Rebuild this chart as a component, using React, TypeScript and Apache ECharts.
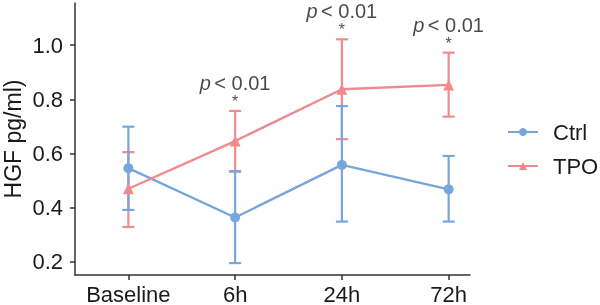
import React, { useEffect, useRef } from "react";
import * as echarts from "echarts";

const categories = ["Baseline", "6h", "24h", "72h"];
const ctrlMean = [0.546, 0.364, 0.558, 0.468];
const ctrlLow = [0.392, 0.196, 0.349, 0.349];
const ctrlHigh = [0.699, 0.535, 0.775, 0.591];
const tpoMean = [0.47, 0.646, 0.837, 0.853];
const tpoLow = [0.329, 0.533, 0.653, 0.736];
const tpoHigh = [0.605, 0.757, 1.021, 0.972];
const pLabels = ["", "< 0.01", "< 0.01", "< 0.01"];
const yTicks = [0.2, 0.4, 0.6, 0.8, 1.0];
const xPositions = [1, 2, 3, 4];

const BLUE = "#76a6dc";
const RED = "#f08a8c";
const AXIS = "#333333";
const TEXT = "#1a1a1a";
const FONT = "Liberation Sans, Arial, sans-serif";

function errorBarSeries(name: string, low: number[], high: number[], color: string) {
  return {
    type: "custom",
    name: name + "_err",
    silent: true,
    data: xPositions.map((x, i) => [x, low[i], high[i]]),
    encode: { x: 0, y: [1, 2] },
    renderItem: (params: any, api: any) => {
      const x = api.value(0);
      const lo = api.coord([x, api.value(1)]);
      const hi = api.coord([x, api.value(2)]);
      const hw = 6;
      const style = { stroke: color, lineWidth: 2.2, fill: "none" };
      return {
        type: "group",
        children: [
          { type: "line", shape: { x1: lo[0], y1: lo[1], x2: hi[0], y2: hi[1] }, style },
          { type: "line", shape: { x1: hi[0] - hw, y1: hi[1], x2: hi[0] + hw, y2: hi[1] }, style },
          { type: "line", shape: { x1: lo[0] - hw, y1: lo[1], x2: lo[0] + hw, y2: lo[1] }, style },
        ],
      };
    },
  };
}

export default function App() {
  const ref = useRef<HTMLDivElement>(null);
  useEffect(() => {
    if (!ref.current) return;
    const chart = echarts.init(ref.current, null, { renderer: "svg" });
    const annotData = xPositions
      .map((x, i) => ({ value: [x, tpoHigh[i]], txt: pLabels[i] }))
      .filter((d) => d.txt !== "");
    chart.setOption({
      animation: false,
      textStyle: { fontFamily: FONT },
      grid: { left: 75, top: 3, width: 395, height: 272, outerBoundsMode: "none", containLabel: false },
      legend: {
        orient: "vertical",
        left: 507,
        top: 121,
        padding: 0,
        itemWidth: 30,
        itemHeight: 10,
        itemGap: 12,
        data: ["Ctrl", "TPO"],
        textStyle: { fontSize: 22, color: TEXT, fontFamily: FONT, padding: [0, 0, 0, 10] },
      },
      xAxis: {
        type: "value",
        min: 0.5,
        max: 4.2,
        splitLine: { show: false },
        axisLine: { show: true, lineStyle: { color: AXIS, width: 1.5 } },
        axisTick: { show: true, length: 5, lineStyle: { color: AXIS, width: 1.5 }, customValues: xPositions },
        axisLabel: {
          customValues: xPositions,
          formatter: (v: number) => categories[Math.round(v) - 1] ?? "",
          fontSize: 22,
          color: TEXT,
          margin: 8,
          fontFamily: FONT,
        },
      },
      yAxis: {
        type: "value",
        min: 0.152,
        max: 1.155,
        name: "HGF pg/ml)",
        nameLocation: "middle",
        nameRotate: 90,
        nameGap: 50,
        nameMoveOverlap: false,
        nameTextStyle: { fontSize: 23, color: TEXT, fontFamily: FONT, lineHeight: 24 },
        splitLine: { show: false },
        axisLine: { show: true, lineStyle: { color: AXIS, width: 1.5 } },
        axisTick: { show: true, length: 5, lineStyle: { color: AXIS, width: 1.5 }, customValues: yTicks },
        axisLabel: {
          customValues: yTicks,
          formatter: (v: number) => v.toFixed(1),
          fontSize: 22,
          color: TEXT,
          margin: 12,
          fontFamily: FONT,
        },
      },
      series: [
        {
          type: "line",
          name: "Ctrl",
          data: xPositions.map((x, i) => [x, ctrlMean[i]]),
          color: BLUE,
          symbol: "circle",
          symbolSize: 10,
          lineStyle: { width: 2.4, color: BLUE },
          itemStyle: { color: BLUE },
        },
        errorBarSeries("TPO", tpoLow, tpoHigh, RED),
        errorBarSeries("Ctrl", ctrlLow, ctrlHigh, BLUE),
        {
          type: "line",
          name: "TPO",
          data: xPositions.map((x, i) => [x, tpoMean[i]]),
          color: RED,
          symbol: "triangle",
          symbolSize: 11,
          lineStyle: { width: 2.4, color: RED },
          itemStyle: { color: RED },
        },
        {
          type: "scatter",
          name: "annot",
          symbolSize: 0,
          silent: true,
          data: annotData.map((d) => ({ value: d.value, txt: d.txt })),
          label: {
            show: true,
            position: "top",
            distance: 1,
            formatter: (p: any) => "{i|p} {t|" + p.data.txt + "}\n{s|*}",
            rich: {
              i: { fontSize: 20, fontStyle: "italic", color: TEXT, fontFamily: FONT, lineHeight: 20 },
              t: { fontSize: 20, color: TEXT, fontFamily: FONT, lineHeight: 20 },
              s: { fontSize: 16, color: TEXT, fontFamily: FONT, lineHeight: 17 },
            },
          },
        },
      ],
    });
    return () => chart.dispose();
  }, []);
  return <div ref={ref} style={{ position: "fixed", left: 0, top: 0, width: 600, height: 305 }} />;
}
